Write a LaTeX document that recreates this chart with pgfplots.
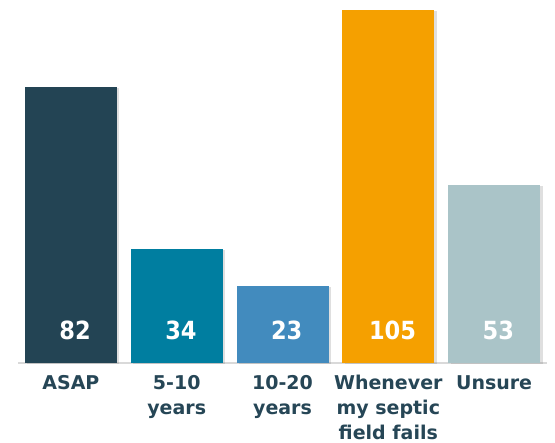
\documentclass[border=0pt]{standalone}
\usepackage{fontspec}
\setmainfont{DejaVu Sans}
\newfontfamily\numfont{DejaVu Sans Condensed}
\usepackage{pgfplots}
\pgfplotsset{compat=1.18}
\usetikzlibrary{shadows}
\definecolor{cAsap}{RGB}{35,68,84}
\definecolor{cFive}{RGB}{0,126,160}
\definecolor{cTen}{RGB}{66,139,190}
\definecolor{cWhen}{RGB}{245,160,0}
\definecolor{cUnsure}{RGB}{170,196,200}
\definecolor{labtext}{RGB}{38,70,86}
\definecolor{baseline}{RGB}{217,217,217}

\begin{document}
\begin{tikzpicture}
\begin{axis}[
  scale only axis,
  width=529pt, height=353pt,
  xmin=-0.5, xmax=4.5,
  ymin=0, ymax=105,
  axis x line*=bottom,
  axis y line=none,
  x axis line style={draw=baseline, line width=1.5pt, -},
  xtick={0,1,2,3,4},
  xticklabels={ASAP, 5-10\\years, 10-20\\years, Whenever\\my septic\\field fails, Unsure},
  major tick length=0pt,
  xticklabel style={align=center, font=\fontsize{19}{25}\selectfont\bfseries,
    text=labtext, inner sep=0pt, yshift=-12pt},
  clip=false,
  bar width=92pt,
  every axis plot/.append style={bar shift=0pt},
]
  \addplot[ybar, fill=cAsap, draw=none,
    drop shadow={shadow xshift=2.5pt, shadow yshift=-1pt, opacity=0.25}]
    coordinates {(0,82)};
  \addplot[ybar, fill=cFive, draw=none,
    drop shadow={shadow xshift=2.5pt, shadow yshift=-1pt, opacity=0.25}]
    coordinates {(1,34)};
  \addplot[ybar, fill=cTen, draw=none,
    drop shadow={shadow xshift=2.5pt, shadow yshift=-1pt, opacity=0.25}]
    coordinates {(2,23)};
  \addplot[ybar, fill=cWhen, draw=none,
    drop shadow={shadow xshift=2.5pt, shadow yshift=-1pt, opacity=0.25}]
    coordinates {(3,105)};
  \addplot[ybar, fill=cUnsure, draw=none,
    drop shadow={shadow xshift=2.5pt, shadow yshift=-1pt, opacity=0.25}]
    coordinates {(4,53)};
  % value labels, set low inside each bar
  \addplot[only marks, mark=none, point meta=explicit symbolic,
    nodes near coords,
    every node near coord/.append style={anchor=center, yshift=0pt,
      text=white, font=\numfont\fontsize{25}{28}\selectfont\bfseries}]
    coordinates {(0.04,9.8)[82] (1.04,9.8)[34] (2.04,9.8)[23] (3.04,9.8)[105] (4.04,9.8)[53]};
  \useasboundingbox (rel axis cs:0,0) ++(-18pt,-80pt) rectangle ([xshift=8pt,yshift=10pt]rel axis cs:1,1);
\end{axis}
\end{tikzpicture}
\end{document}
